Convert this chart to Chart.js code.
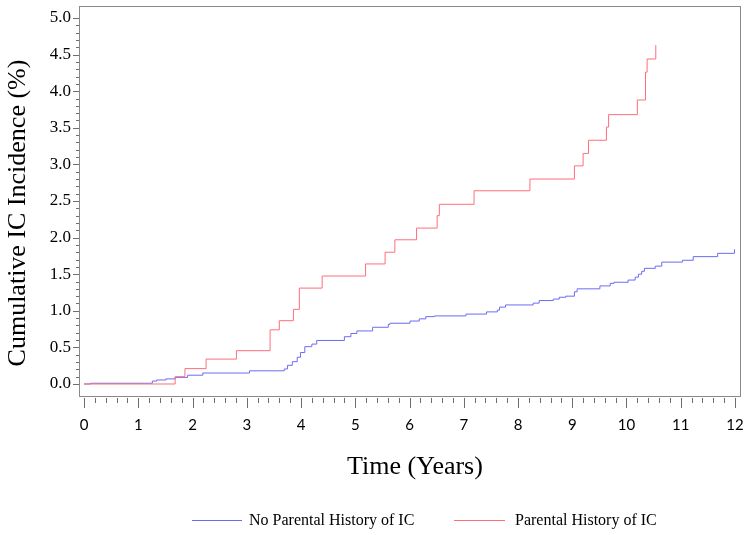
<!DOCTYPE html>
<html>
<head>
<meta charset="utf-8">
<script src="https://cdn.jsdelivr.net/npm/chart.js@4.4.1/dist/chart.umd.min.js"></script>
<style>
html,body{margin:0;padding:0;background:#ffffff;}
canvas{display:block;}
</style>
</head>
<body>
<canvas id="c" width="753" height="535"></canvas>
<script>
// ---- Data ----
const xTickLabels = [0, 1, 2, 3, 4, 5, 6, 7, 8, 9, 10, 11, 12];
const yTickLabels = ['0.0', '0.5', '1.0', '1.5', '2.0', '2.5', '3.0', '3.5', '4.0', '4.5', '5.0'];
const seriesNames = ['No Parental History of IC', 'Parental History of IC'];
const xTitle = 'Time (Years)';
const yTitle = 'Cumulative IC Incidence (%)';

// No parental history: step times (years) and cumulative incidence (%)
const noHistTimes = [0, 0.12, 1.26, 1.34, 1.51, 1.68, 1.91, 2.19, 3.05, 3.69, 3.75, 3.84, 3.93, 3.99, 4.07, 4.20, 4.29,
  4.80, 4.92, 5.03, 5.32, 5.61, 5.64, 6.01, 6.18, 6.30, 6.46, 7.04, 7.42, 7.62, 7.66, 7.77, 8.28, 8.39, 8.65, 8.76,
  8.88, 9.04, 9.09, 9.51, 9.70, 9.77, 10.03, 10.16, 10.22, 10.28, 10.33, 10.53, 10.65, 11.03, 11.23, 11.68, 11.99];
const noHistValues = [0, 0.01, 0.04, 0.055, 0.07, 0.09, 0.12, 0.15, 0.18, 0.205, 0.255, 0.305, 0.365, 0.43, 0.51, 0.545, 0.595,
  0.646, 0.69, 0.725, 0.775, 0.815, 0.83, 0.86, 0.89, 0.92, 0.93, 0.955, 0.985, 1.01, 1.05, 1.08, 1.105, 1.14, 1.16, 1.185,
  1.20, 1.26, 1.30, 1.34, 1.375, 1.39, 1.42, 1.46, 1.50, 1.54, 1.58, 1.61, 1.665, 1.69, 1.74, 1.785, 1.84];

// Parental history
const parHistTimes = [0, 1.68, 1.86, 2.25, 2.81, 3.43, 3.60, 3.86, 3.97, 4.39, 5.19, 5.55, 5.73, 6.13, 6.51, 6.55,
  7.19, 8.22, 9.04, 9.20, 9.30, 9.63, 9.67, 10.20, 10.35, 10.38, 10.54];
const parHistValues = [0, 0.10, 0.21, 0.34, 0.455, 0.74, 0.865, 1.02, 1.31, 1.475, 1.64, 1.80, 1.97, 2.13, 2.30, 2.455,
  2.64, 2.80, 2.98, 3.15, 3.33, 3.51, 3.68, 3.88, 4.26, 4.44, 4.63];

// ---- Styles ----
const BLUE = '#6c6cf2';
const RED = '#ff6e7a';
const FRAME = '#8a8a8a';
const SERIF = '"Liberation Serif", "Times New Roman", serif';
const SANS = 'Lato, "Liberation Sans", sans-serif';

const toPoints = (ts, vs) => ts.map((t, i) => ({x: t, y: vs[i]}));

const zeroPad = s => { s.paddingLeft = 0; s.paddingRight = 0; s.paddingTop = 0; s.paddingBottom = 0; };

const decor = {
  id: 'decor',
  afterDraw(chart) {
    const ctx = chart.ctx;
    const a = chart.chartArea;
    const xs = chart.scales.x, ys = chart.scales.y;
    ctx.save();
    // frame
    ctx.strokeStyle = FRAME;
    ctx.lineWidth = 1;
    ctx.strokeRect(Math.round(a.left) + 0.5, Math.round(a.top) + 0.5,
      Math.round(a.right - a.left), Math.round(a.bottom - a.top));
    // x ticks (major + 4 minor per interval)
    ctx.strokeStyle = '#6e6e6e';
    ctx.beginPath();
    const xMin = xTickLabels[0], xMax = xTickLabels[xTickLabels.length - 1];
    const xSub = 5;
    for (let k = 0; k <= (xMax - xMin) * xSub; k++) {
      const v = xMin + k / xSub;
      const px = Math.round(xs.getPixelForValue(v)) + 0.5;
      const len = (k % xSub === 0) ? 10 : 5;
      const y0 = Math.round(a.bottom) + 2;
      ctx.moveTo(px, y0);
      ctx.lineTo(px, y0 + len);
    }
    // y ticks (major every 0.5, minor every 0.1)
    const ySub = 5;
    const yVals = yTickLabels.map(Number);
    const yStep = yVals[1] - yVals[0];
    for (let k = 0; k <= (yVals.length - 1) * ySub; k++) {
      const v = yVals[0] + k * yStep / ySub;
      const py = Math.round(ys.getPixelForValue(v)) + 0.5;
      const len = (k % ySub === 0) ? 6 : 3;
      const x0 = Math.round(a.left);
      ctx.moveTo(x0, py);
      ctx.lineTo(x0 - len, py);
    }
    ctx.stroke();

    // axis titles
    ctx.fillStyle = '#000';
    ctx.font = '26px ' + SERIF;
    ctx.textAlign = 'center';
    ctx.textBaseline = 'alphabetic';
    ctx.fillText(xTitle, 415, 474);
    ctx.save();
    ctx.translate(25, 213);
    ctx.rotate(-Math.PI / 2);
    ctx.fillText(yTitle, 0, 0);
    ctx.restore();

    // legend
    ctx.font = '16px ' + SERIF;
    ctx.textAlign = 'left';
    const items = [
      {name: seriesNames[0], color: BLUE, x0: 192, x1: 242, tx: 249},
      {name: seriesNames[1], color: RED, x0: 454, x1: 505, tx: 515}
    ];
    items.forEach(it => {
      ctx.strokeStyle = it.color;
      ctx.beginPath();
      ctx.moveTo(it.x0, 520.5);
      ctx.lineTo(it.x1, 520.5);
      ctx.stroke();
      ctx.fillText(it.name, it.tx, 525);
    });
    ctx.restore();
  }
};

new Chart(document.getElementById('c'), {
  type: 'scatter',
  data: {
    datasets: [
      {
        label: seriesNames[0],
        data: toPoints(noHistTimes, noHistValues),
        showLine: true, stepped: 'before',
        borderColor: BLUE, borderWidth: 1, pointRadius: 0, fill: false, order: 2
      },
      {
        label: seriesNames[1],
        data: toPoints(parHistTimes, parHistValues),
        showLine: true, stepped: 'before',
        borderColor: RED, borderWidth: 1, pointRadius: 0, fill: false, order: 1
      }
    ]
  },
  options: {
    responsive: false,
    animation: false,
    events: [],
    layout: {padding: {left: 0, top: 6, right: 13, bottom: 0}},
    plugins: {legend: {display: false}, tooltip: {enabled: false}, title: {display: false}},
    scales: {
      x: {
        type: 'linear',
        min: -0.0922, max: 12.0922,
        afterBuildTicks: s => { s.ticks = xTickLabels.map(v => ({value: v})); },
        afterFit: s => { s.height = 139; zeroPad(s); },
        grid: {display: false, drawTicks: false},
        border: {display: false},
        ticks: {
          font: {family: SANS, size: 15}, color: '#000', padding: 20,
          maxRotation: 0, autoSkip: false,
          callback: v => String(v)
        }
      },
      y: {
        type: 'linear',
        min: -0.164, max: 5.164,
        afterBuildTicks: s => { s.ticks = yTickLabels.map(v => ({value: Number(v)})); },
        afterFit: s => { s.width = 79; zeroPad(s); },
        grid: {display: false, drawTicks: false},
        border: {display: false},
        ticks: {
          font: {family: SERIF, size: 17}, color: '#000', padding: 8,
          autoSkip: false,
          callback: v => Number(v).toFixed(1)
        }
      }
    }
  },
  plugins: [decor]
});
</script>
</body>
</html>
